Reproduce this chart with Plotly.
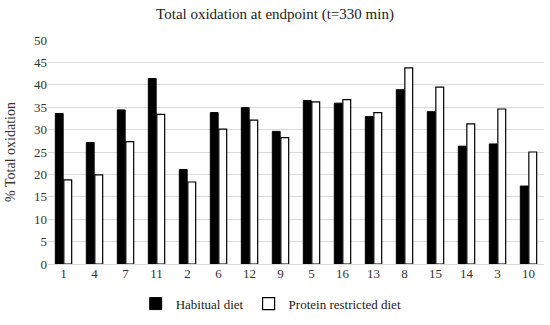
import plotly.graph_objects as go

categories = ["1", "4", "7", "11", "2", "6", "12", "9", "5", "16", "13", "8", "15", "14", "3", "10"]
habitual = [33.6, 27.1, 34.4, 41.4, 21.1, 33.8, 34.9, 29.6, 36.5, 35.9, 32.9, 38.9, 34.0, 26.3, 26.8, 17.4]
restricted = [18.8, 19.9, 27.3, 33.4, 18.3, 30.1, 32.1, 28.2, 36.2, 36.7, 33.8, 43.8, 39.5, 31.3, 34.6, 25.0]
y_ticks = [0, 5, 10, 15, 20, 25, 30, 35, 40, 45, 50]

fig = go.Figure()
fig.add_trace(go.Bar(x=categories, y=habitual, name="Habitual diet",
                     marker=dict(color="black", line=dict(color="black", width=1))))
fig.add_trace(go.Bar(x=categories, y=restricted, name="Protein restricted diet",
                     marker=dict(color="white", line=dict(color="black", width=1.2))))

font = "Liberation Serif, Times New Roman, serif"
fig.update_layout(
    width=550, height=325,
    margin=dict(l=48, r=6, t=40, b=55),
    paper_bgcolor="white", plot_bgcolor="white",
    font=dict(family=font, size=13, color="#333"),
    title=dict(text="Total oxidation at endpoint (t=330 min)", x=0.5, xanchor="center",
               y=0.975, yanchor="top", font=dict(family=font, size=15, color="#222")),
    barmode="group", bargap=0.45, bargroupgap=0.08,
    showlegend=True,
    legend=dict(orientation="h", x=0.45, xanchor="center", y=-0.11, yanchor="top",
                font=dict(family=font, size=13, color="#222"), itemwidth=30,
                tracegroupgap=0),
)
fig.update_xaxes(type="category", showgrid=False, showline=False, ticks="", automargin=False,
                 tickfont=dict(family=font, size=13, color="#333"))
fig.update_yaxes(range=[0, 50], tickvals=y_ticks, showgrid=True, gridcolor="#d9d9d9",
                 gridwidth=1, zeroline=True, zerolinecolor="#d9d9d9", zerolinewidth=1,
                 showline=False, ticks="", automargin=False,
                 title=dict(text="% Total oxidation", font=dict(family=font, size=14, color="#333")),
                 tickfont=dict(family=font, size=13, color="#333"))

fig.write_html("out.html", config={"displayModeBar": False},
               post_script="document.body.style.margin='0';document.body.style.overflow='hidden';")
